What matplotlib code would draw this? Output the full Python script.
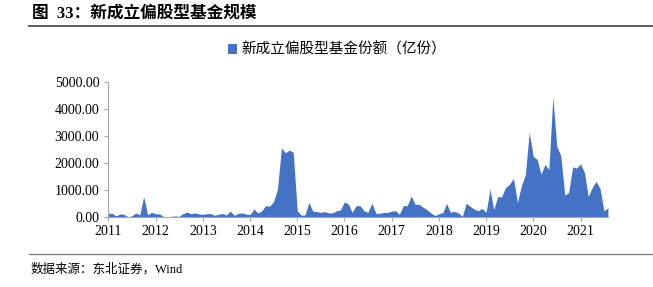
import matplotlib
matplotlib.use("Agg")
import matplotlib.pyplot as plt
import matplotlib.dates as mdates
import pandas as pd

# monthly size of newly issued equity-oriented funds (亿份), 2011-01 .. 2021-08
y2011 = [140, 130, 40, 110, 100, 10, 40, 150, 80, 760, 80, 170]
y2012 = [120, 110, 20, 10, 20, 40, 20, 130, 180, 120, 150, 110]
y2013 = [100, 120, 130, 60, 100, 130, 70, 220, 60, 130, 150, 110]
y2014 = [90, 300, 150, 220, 420, 400, 560, 1030, 2560, 2380, 2480, 2400]
y2015 = [230, 70, 70, 540, 220, 200, 170, 200, 150, 150, 230, 260]
y2016 = [560, 480, 170, 420, 420, 230, 170, 510, 135, 135, 170, 170]
y2017 = [220, 230, 100, 420, 420, 780, 470, 470, 360, 270, 150, 50]
y2018 = [120, 170, 500, 170, 210, 150, 25, 510, 390, 290, 230, 320]
y2019 = [170, 1030, 270, 750, 750, 1090, 1210, 1430, 540, 1150, 1560, 3140]
y2020 = [2250, 2130, 1580, 1950, 1760, 4460, 2620, 2280, 810, 910, 1860, 1810]
y2021 = [1970, 1640, 760, 1090, 1320, 1050, 230, 340]

values = (y2011 + y2012 + y2013 + y2014 + y2015 + y2016 + y2017 + y2018
          + y2019 + y2020 + y2021)
dates = pd.date_range("2011-01-01", periods=len(values), freq="MS")

series_label = "新成立偏股型基金份额（亿份）"
title = "图  33：新成立偏股型基金规模"
source = "数据来源：东北证券，Wind"

fams = ["Liberation Serif", "Noto Sans CJK SC"]
plt.rcParams["font.family"] = fams
blue = "#4472C4"

fig = plt.figure(figsize=(6.53, 2.87), dpi=100)
ax = fig.add_axes([0.166, 0.244, 0.765, 0.470])

ax.fill_between(dates, values, 0, color=blue, lw=0, label=series_label)
ax.set_ylim(0, 5000)
ax.set_yticks([0, 1000, 2000, 3000, 4000, 5000])
ax.yaxis.set_major_formatter(matplotlib.ticker.FormatStrFormatter("%.2f"))
ax.set_xlim(dates[0], dates[-1])
ax.xaxis.set_major_locator(mdates.YearLocator())
ax.xaxis.set_major_formatter(mdates.DateFormatter("%Y"))

for s in ["top", "right"]:
    ax.spines[s].set_visible(False)
for s in ["left", "bottom"]:
    ax.spines[s].set_color("#A6A6A6")
    ax.spines[s].set_linewidth(0.8)
ax.tick_params(axis="both", colors="#A6A6A6", length=3, width=0.8,
               labelsize=10, labelcolor="black")
ax.tick_params(axis="x", pad=3)

leg = fig.legend(loc="center", bbox_to_anchor=(0.516, 0.826), frameon=False,
                 fontsize=10.5, handlelength=0.6, handleheight=0.6,
                 handletextpad=0.3, borderpad=0)

# header / footer
fig.text(0.049, 0.952, title, fontsize=12, fontweight="bold", ha="left",
         va="center", family=fams)
fig.add_artist(plt.Line2D([0.045, 1.0], [0.909, 0.909], color="#404040", lw=1.2))
fig.add_artist(plt.Line2D([0.045, 1.0], [0.115, 0.115], color="#808080", lw=1.0))
fig.text(0.046, 0.062, source, fontsize=9, ha="left", va="center", family=fams)

fig.savefig("out.png", dpi=100)
